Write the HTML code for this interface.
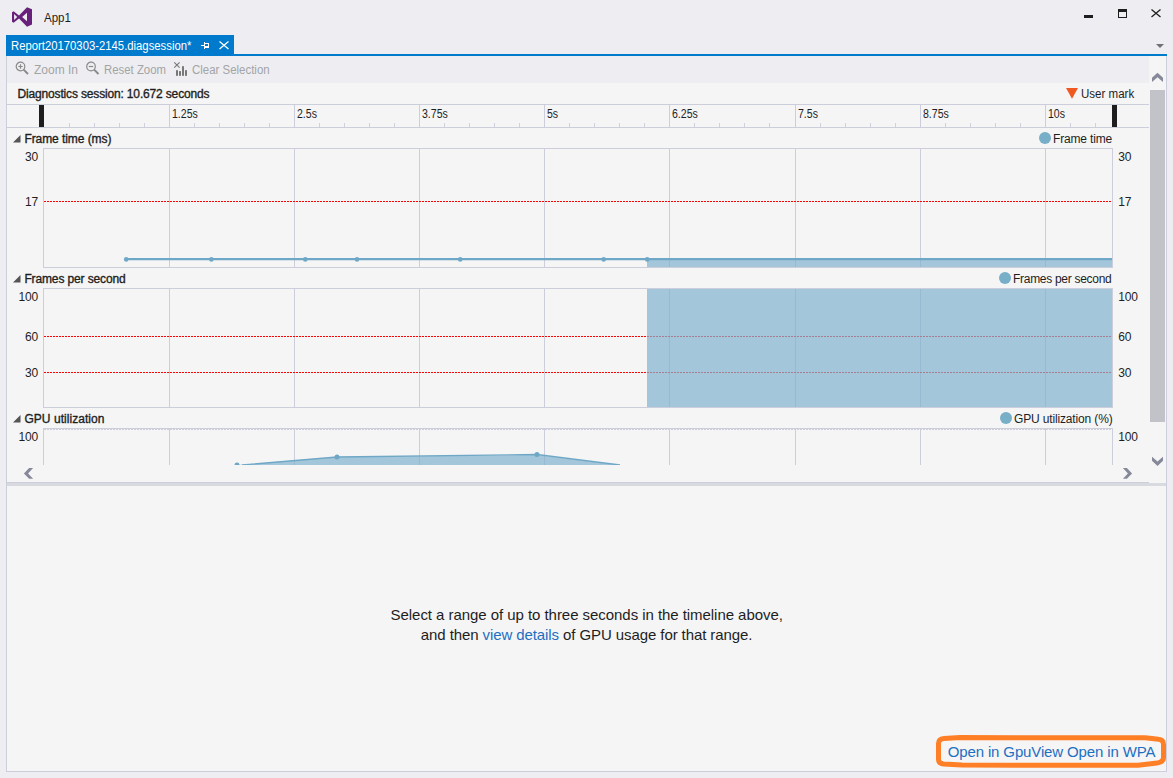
<!DOCTYPE html>
<html><head><meta charset="utf-8">
<style>
*{margin:0;padding:0;box-sizing:border-box}
html,body{width:1173px;height:778px;overflow:hidden;background:#EEEEF2;font-family:"Liberation Sans",sans-serif;font-size:12px;color:#1E1E1E}
.a{position:absolute}
.t{position:absolute;white-space:nowrap}
.sb{font-weight:bold}
</style></head><body>
<svg class="a" style="left:0;top:0" width="1173" height="35">
  <path fill="#68217A" fill-rule="evenodd" d="M12 12.2 L13.6 11.2 L19 15.4 L27 7.2 L32 9.3 L32 24.6 L27 26.8 L19 18.6 L13.6 22.8 L12 21.8 Z M14.1 14 L14.1 20.1 L17.2 17.05 Z M27 12.7 L27 21.3 L22.1 17 Z"/>
  <rect x="1084" y="15" width="9" height="3" fill="#1E1E1E"/>
  <rect x="1118.5" y="9.5" width="8" height="8" fill="none" stroke="#1E1E1E" stroke-width="1"/>
  <rect x="1118" y="9" width="9" height="3" fill="#1E1E1E"/>
  <path d="M1151.5 9.5 L1160.5 17 M1160.5 9.5 L1151.5 17" stroke="#1E1E1E" stroke-width="1.3"/>
</svg>
<div class="t" style="left:44px;top:11.00px;font-size:13px;line-height:13px;color:#1E1E1E;transform:scaleX(0.885);transform-origin:left center;">App1</div>
<div class="a" style="left:6px;top:35px;width:228px;height:21px;background:#007ACC"></div>
<div class="a" style="left:6px;top:54px;width:1161px;height:2px;background:#007ACC"></div>
<div class="t" style="left:10.5px;top:40.34px;font-size:12px;line-height:12px;color:#FFFFFF;transform:scaleX(0.942);transform-origin:left center;">Report20170303-2145.diagsession*</div>
<svg class="a" style="left:195px;top:38px" width="40" height="14">
  <g fill="#fff"><rect x="6" y="7" width="3" height="1"/><rect x="9" y="4" width="1" height="7"/><rect x="10" y="5" width="4" height="1"/><rect x="13" y="5" width="1" height="5"/><rect x="10" y="8" width="4" height="2"/></g>
  <path d="M24.5 3.5 L33.5 11 M33.5 3.5 L24.5 11" stroke="#fff" stroke-width="1.3"/>
</svg>
<svg class="a" style="left:1155px;top:43px" width="10" height="6"><path d="M1 1 H9 L5 5 Z" fill="#717171"/></svg>
<div class="a" style="left:6px;top:56px;width:1161px;height:716px;background:#F5F5F5;border-left:1px solid #CCCEDB;border-right:1px solid #CCCEDB;border-bottom:1px solid #CCCEDB"></div>
<div class="a" style="left:7px;top:56px;width:1142px;height:27px;background:#EEEEF2"></div>
<svg class="a" style="left:14px;top:60px" width="180" height="20">
  <g fill="none" stroke="#8A8A8A" stroke-width="1.2">
    <circle cx="6.5" cy="6.5" r="4.3"/>
    <path d="M4.3 6.5 H8.7 M6.5 4.3 V8.7"/>
    <path d="M9.6 9.6 L14 14" stroke-width="2"/>
    <circle cx="77" cy="6.5" r="4.3"/>
    <path d="M74.8 6.5 H79.2"/>
    <path d="M80.1 9.6 L84.5 14" stroke-width="2"/>
  </g>
</svg>
<div class="t" style="left:34px;top:64.34px;font-size:12px;line-height:12px;color:#A2A4A5;">Zoom In</div>
<div class="t" style="left:104.2px;top:64.34px;font-size:12px;line-height:12px;color:#A2A4A5;transform:scaleX(0.949);transform-origin:left center;">Reset Zoom</div>
<svg class="a" style="left:172px;top:60px" width="20" height="20">
  <path d="M2.2 2.4 L7.6 7.6 M7.6 2.4 L2.2 7.6" stroke="#777" stroke-width="1.1"/>
  <rect x="4" y="10.2" width="2" height="5.6" fill="#777"/>
  <rect x="7" y="11.1" width="2" height="4.7" fill="#777"/>
  <rect x="10" y="6.2" width="2" height="9.6" fill="#777"/>
  <rect x="13" y="10.2" width="2" height="5.6" fill="#777"/>
</svg>
<div class="t" style="left:192.2px;top:64.34px;font-size:12px;line-height:12px;color:#A2A4A5;transform:scaleX(0.954);transform-origin:left center;">Clear Selection</div>
<div class="t" style="left:17.5px;top:87.84px;font-size:12px;line-height:12px;color:#1E1E1E;letter-spacing:-0.16px;-webkit-text-stroke:0.35px #1E1E1E;">Diagnostics session: 10.672 seconds</div>
<svg class="a" style="left:1065px;top:87px" width="14" height="12"><path d="M1 1 H13 L7 11.8 Z" fill="#F05A22"/></svg>
<div class="t" style="left:1080.8px;top:87.84px;font-size:12px;line-height:12px;color:#1E1E1E;transform:scaleX(0.962);transform-origin:left center;">User mark</div>
<div class="a" style="left:7px;top:104px;width:1142px;height:1px;background:#CCCEDB"></div>
<div class="a" style="left:7px;top:127px;width:1142px;height:1px;background:#CCCEDB"></div>
<div class="a" style="left:169px;top:105px;width:1px;height:22px;background:#CCCEDB"></div>
<div class="a" style="left:294px;top:105px;width:1px;height:22px;background:#CCCEDB"></div>
<div class="a" style="left:419px;top:105px;width:1px;height:22px;background:#CCCEDB"></div>
<div class="a" style="left:544px;top:105px;width:1px;height:22px;background:#CCCEDB"></div>
<div class="a" style="left:669px;top:105px;width:1px;height:22px;background:#CCCEDB"></div>
<div class="a" style="left:795px;top:105px;width:1px;height:22px;background:#CCCEDB"></div>
<div class="a" style="left:920px;top:105px;width:1px;height:22px;background:#CCCEDB"></div>
<div class="a" style="left:1045px;top:105px;width:1px;height:22px;background:#CCCEDB"></div>
<div class="a" style="left:69px;top:123px;width:1px;height:4px;background:#D0D1DC"></div>
<div class="a" style="left:94px;top:123px;width:1px;height:4px;background:#D0D1DC"></div>
<div class="a" style="left:119px;top:123px;width:1px;height:4px;background:#D0D1DC"></div>
<div class="a" style="left:144px;top:123px;width:1px;height:4px;background:#D0D1DC"></div>
<div class="a" style="left:194px;top:123px;width:1px;height:4px;background:#D0D1DC"></div>
<div class="a" style="left:219px;top:123px;width:1px;height:4px;background:#D0D1DC"></div>
<div class="a" style="left:244px;top:123px;width:1px;height:4px;background:#D0D1DC"></div>
<div class="a" style="left:269px;top:123px;width:1px;height:4px;background:#D0D1DC"></div>
<div class="a" style="left:319px;top:123px;width:1px;height:4px;background:#D0D1DC"></div>
<div class="a" style="left:344px;top:123px;width:1px;height:4px;background:#D0D1DC"></div>
<div class="a" style="left:369px;top:123px;width:1px;height:4px;background:#D0D1DC"></div>
<div class="a" style="left:394px;top:123px;width:1px;height:4px;background:#D0D1DC"></div>
<div class="a" style="left:444px;top:123px;width:1px;height:4px;background:#D0D1DC"></div>
<div class="a" style="left:469px;top:123px;width:1px;height:4px;background:#D0D1DC"></div>
<div class="a" style="left:494px;top:123px;width:1px;height:4px;background:#D0D1DC"></div>
<div class="a" style="left:519px;top:123px;width:1px;height:4px;background:#D0D1DC"></div>
<div class="a" style="left:569px;top:123px;width:1px;height:4px;background:#D0D1DC"></div>
<div class="a" style="left:594px;top:123px;width:1px;height:4px;background:#D0D1DC"></div>
<div class="a" style="left:619px;top:123px;width:1px;height:4px;background:#D0D1DC"></div>
<div class="a" style="left:644px;top:123px;width:1px;height:4px;background:#D0D1DC"></div>
<div class="a" style="left:694px;top:123px;width:1px;height:4px;background:#D0D1DC"></div>
<div class="a" style="left:719px;top:123px;width:1px;height:4px;background:#D0D1DC"></div>
<div class="a" style="left:744px;top:123px;width:1px;height:4px;background:#D0D1DC"></div>
<div class="a" style="left:769px;top:123px;width:1px;height:4px;background:#D0D1DC"></div>
<div class="a" style="left:820px;top:123px;width:1px;height:4px;background:#D0D1DC"></div>
<div class="a" style="left:845px;top:123px;width:1px;height:4px;background:#D0D1DC"></div>
<div class="a" style="left:870px;top:123px;width:1px;height:4px;background:#D0D1DC"></div>
<div class="a" style="left:895px;top:123px;width:1px;height:4px;background:#D0D1DC"></div>
<div class="a" style="left:945px;top:123px;width:1px;height:4px;background:#D0D1DC"></div>
<div class="a" style="left:970px;top:123px;width:1px;height:4px;background:#D0D1DC"></div>
<div class="a" style="left:995px;top:123px;width:1px;height:4px;background:#D0D1DC"></div>
<div class="a" style="left:1020px;top:123px;width:1px;height:4px;background:#D0D1DC"></div>
<div class="a" style="left:1070px;top:123px;width:1px;height:4px;background:#D0D1DC"></div>
<div class="a" style="left:1095px;top:123px;width:1px;height:4px;background:#D0D1DC"></div>
<div class="t" style="left:172.3px;top:107.84px;font-size:12px;line-height:12px;color:#1E1E1E;transform:scaleX(0.88);transform-origin:left center;">1.25s</div>
<div class="t" style="left:297.3px;top:107.84px;font-size:12px;line-height:12px;color:#1E1E1E;transform:scaleX(0.88);transform-origin:left center;">2.5s</div>
<div class="t" style="left:422.3px;top:107.84px;font-size:12px;line-height:12px;color:#1E1E1E;transform:scaleX(0.88);transform-origin:left center;">3.75s</div>
<div class="t" style="left:547.3px;top:107.84px;font-size:12px;line-height:12px;color:#1E1E1E;transform:scaleX(0.88);transform-origin:left center;">5s</div>
<div class="t" style="left:672.3px;top:107.84px;font-size:12px;line-height:12px;color:#1E1E1E;transform:scaleX(0.88);transform-origin:left center;">6.25s</div>
<div class="t" style="left:798.3px;top:107.84px;font-size:12px;line-height:12px;color:#1E1E1E;transform:scaleX(0.88);transform-origin:left center;">7.5s</div>
<div class="t" style="left:923.3px;top:107.84px;font-size:12px;line-height:12px;color:#1E1E1E;transform:scaleX(0.88);transform-origin:left center;">8.75s</div>
<div class="t" style="left:1048.3px;top:107.84px;font-size:12px;line-height:12px;color:#1E1E1E;transform:scaleX(0.88);transform-origin:left center;">10s</div>
<div class="a" style="left:39px;top:105px;width:5px;height:22px;background:#1E1E1E"></div>
<div class="a" style="left:1112px;top:105px;width:5px;height:22px;background:#1E1E1E"></div>
<svg class="a" style="left:12px;top:133.5px" width="10" height="10"><path d="M8.5 1 V8.5 H1 Z" fill="#555"/></svg>
<div class="t" style="left:24.4px;top:132.84px;font-size:12px;line-height:12px;color:#1E1E1E;letter-spacing:-0.07px;-webkit-text-stroke:0.35px #1E1E1E;">Frame time (ms)</div>
<div class="a" style="left:1039px;top:132px;width:12px;height:12px;border-radius:50%;background:#77AFC9"></div>
<div class="t" style="left:1053px;top:132.84px;font-size:12px;line-height:12px;color:#1E1E1E;letter-spacing:-0.17px;">Frame time</div>
<div class="a" style="left:43px;top:148px;width:1070px;height:1px;background:#CCCEDB"></div>
<div class="a" style="left:43px;top:267px;width:1070px;height:1px;background:#CCCEDB"></div>
<div class="a" style="left:43px;top:148px;width:1px;height:119px;background:#CCCEDB"></div>
<div class="a" style="left:1112px;top:148px;width:1px;height:119px;background:#CCCEDB"></div>
<div class="a" style="left:169px;top:149px;width:1px;height:118px;background:#CCCEDB"></div>
<div class="a" style="left:294px;top:149px;width:1px;height:118px;background:#CCCEDB"></div>
<div class="a" style="left:419px;top:149px;width:1px;height:118px;background:#CCCEDB"></div>
<div class="a" style="left:544px;top:149px;width:1px;height:118px;background:#CCCEDB"></div>
<div class="a" style="left:669px;top:149px;width:1px;height:118px;background:#CCCEDB"></div>
<div class="a" style="left:795px;top:149px;width:1px;height:118px;background:#CCCEDB"></div>
<div class="a" style="left:920px;top:149px;width:1px;height:118px;background:#CCCEDB"></div>
<div class="a" style="left:1045px;top:149px;width:1px;height:118px;background:#CCCEDB"></div>
<div class="t" style="left:-162px;width:200px;text-align:right;top:150.84px;font-size:12px;line-height:12px;color:#1E1E1E;letter-spacing:-0.2px;">30</div>
<div class="t" style="left:-162px;width:200px;text-align:right;top:195.84px;font-size:12px;line-height:12px;color:#1E1E1E;letter-spacing:-0.2px;">17</div>
<div class="t" style="left:1118.3px;top:150.84px;font-size:12px;line-height:12px;color:#1E1E1E;letter-spacing:-0.2px;">30</div>
<div class="t" style="left:1118.3px;top:195.84px;font-size:12px;line-height:12px;color:#1E1E1E;letter-spacing:-0.2px;">17</div>
<svg class="a" style="left:12px;top:273.5px" width="10" height="10"><path d="M8.5 1 V8.5 H1 Z" fill="#555"/></svg>
<div class="t" style="left:24.4px;top:272.84px;font-size:12px;line-height:12px;color:#1E1E1E;letter-spacing:-0.13px;-webkit-text-stroke:0.35px #1E1E1E;">Frames per second</div>
<div class="a" style="left:999px;top:272px;width:12px;height:12px;border-radius:50%;background:#77AFC9"></div>
<div class="t" style="left:1013px;top:272.84px;font-size:12px;line-height:12px;color:#1E1E1E;letter-spacing:-0.29px;">Frames per second</div>
<div class="a" style="left:43px;top:288px;width:1070px;height:1px;background:#CCCEDB"></div>
<div class="a" style="left:43px;top:407px;width:1070px;height:1px;background:#CCCEDB"></div>
<div class="a" style="left:43px;top:288px;width:1px;height:119px;background:#CCCEDB"></div>
<div class="a" style="left:1112px;top:288px;width:1px;height:119px;background:#CCCEDB"></div>
<div class="a" style="left:169px;top:289px;width:1px;height:118px;background:#CCCEDB"></div>
<div class="a" style="left:294px;top:289px;width:1px;height:118px;background:#CCCEDB"></div>
<div class="a" style="left:419px;top:289px;width:1px;height:118px;background:#CCCEDB"></div>
<div class="a" style="left:544px;top:289px;width:1px;height:118px;background:#CCCEDB"></div>
<div class="a" style="left:669px;top:289px;width:1px;height:118px;background:#CCCEDB"></div>
<div class="a" style="left:795px;top:289px;width:1px;height:118px;background:#CCCEDB"></div>
<div class="a" style="left:920px;top:289px;width:1px;height:118px;background:#CCCEDB"></div>
<div class="a" style="left:1045px;top:289px;width:1px;height:118px;background:#CCCEDB"></div>
<div class="t" style="left:-162px;width:200px;text-align:right;top:290.54px;font-size:12px;line-height:12px;color:#1E1E1E;letter-spacing:-0.2px;">100</div>
<div class="t" style="left:-162px;width:200px;text-align:right;top:330.84px;font-size:12px;line-height:12px;color:#1E1E1E;letter-spacing:-0.2px;">60</div>
<div class="t" style="left:-162px;width:200px;text-align:right;top:367.04px;font-size:12px;line-height:12px;color:#1E1E1E;letter-spacing:-0.2px;">30</div>
<div class="t" style="left:1118.3px;top:290.54px;font-size:12px;line-height:12px;color:#1E1E1E;letter-spacing:-0.2px;">100</div>
<div class="t" style="left:1118.3px;top:330.84px;font-size:12px;line-height:12px;color:#1E1E1E;letter-spacing:-0.2px;">60</div>
<div class="t" style="left:1118.3px;top:367.04px;font-size:12px;line-height:12px;color:#1E1E1E;letter-spacing:-0.2px;">30</div>
<svg class="a" style="left:12px;top:413.5px" width="10" height="10"><path d="M8.5 1 V8.5 H1 Z" fill="#555"/></svg>
<div class="t" style="left:24.4px;top:412.84px;font-size:12px;line-height:12px;color:#1E1E1E;letter-spacing:0.05px;-webkit-text-stroke:0.35px #1E1E1E;">GPU utilization</div>
<div class="a" style="left:1000px;top:412px;width:12px;height:12px;border-radius:50%;background:#77AFC9"></div>
<div class="t" style="left:1014px;top:412.84px;font-size:12px;line-height:12px;color:#1E1E1E;letter-spacing:-0.15px;">GPU utilization (%)</div>
<div class="a" style="left:43px;top:428px;width:1070px;height:1px;background:#CCCEDB"></div>
<div class="a" style="left:44px;top:429px;width:1068px;height:1px;background:repeating-linear-gradient(90deg,#CCCEDB 0 2px,transparent 2px 3px)"></div>
<div class="a" style="left:43px;top:428px;width:1px;height:37px;background:#CCCEDB"></div>
<div class="a" style="left:1112px;top:428px;width:1px;height:37px;background:#CCCEDB"></div>
<div class="a" style="left:169px;top:429px;width:1px;height:36px;background:#CCCEDB"></div>
<div class="a" style="left:294px;top:429px;width:1px;height:36px;background:#CCCEDB"></div>
<div class="a" style="left:419px;top:429px;width:1px;height:36px;background:#CCCEDB"></div>
<div class="a" style="left:544px;top:429px;width:1px;height:36px;background:#CCCEDB"></div>
<div class="a" style="left:669px;top:429px;width:1px;height:36px;background:#CCCEDB"></div>
<div class="a" style="left:795px;top:429px;width:1px;height:36px;background:#CCCEDB"></div>
<div class="a" style="left:920px;top:429px;width:1px;height:36px;background:#CCCEDB"></div>
<div class="a" style="left:1045px;top:429px;width:1px;height:36px;background:#CCCEDB"></div>
<div class="t" style="left:-162px;width:200px;text-align:right;top:430.54px;font-size:12px;line-height:12px;color:#1E1E1E;letter-spacing:-0.2px;">100</div>
<div class="t" style="left:1118.3px;top:430.54px;font-size:12px;line-height:12px;color:#1E1E1E;letter-spacing:-0.2px;">100</div>
<div class="a" style="left:44px;top:201px;width:1068px;height:1px;background:repeating-linear-gradient(90deg,#FF0000 0 2px,transparent 2px 3px)"></div>
<div class="a" style="left:44px;top:336px;width:1068px;height:1px;background:repeating-linear-gradient(90deg,#FF0000 0 2px,transparent 2px 3px)"></div>
<div class="a" style="left:44px;top:372px;width:1068px;height:1px;background:repeating-linear-gradient(90deg,#FF0000 0 2px,transparent 2px 3px)"></div>
<svg class="a" style="left:0;top:0" width="1173" height="778">
  <rect x="647" y="260" width="465" height="7" fill="rgba(128,178,206,0.7)"/>
  <rect x="647" y="289" width="465" height="118" fill="rgba(128,178,206,0.7)"/>
  <path d="M237 465 L337 457 L537 455 L620 465 Z" fill="rgba(128,178,206,0.7)"/>
  <path d="M242 465 L337 457 L537 454.5 L620 465" fill="none" stroke="#6FA8C6" stroke-width="1.3"/>
  <circle cx="337" cy="457" r="2.5" fill="#6FA8C6"/>
  <circle cx="537" cy="454.5" r="2.5" fill="#6FA8C6"/>
  <circle cx="237" cy="465" r="2.5" fill="#6FA8C6"/>
  <path d="M126 259.2 L647 259.2 L1112 259.2" stroke="#6FA8C6" stroke-width="2.3" fill="none"/>
  <circle cx="126.2" cy="259.4" r="2.3" fill="#6FA8C6"/><circle cx="211.4" cy="259.4" r="2.3" fill="#6FA8C6"/><circle cx="305.3" cy="259.4" r="2.3" fill="#6FA8C6"/><circle cx="357" cy="259.4" r="2.3" fill="#6FA8C6"/><circle cx="460.2" cy="259.4" r="2.3" fill="#6FA8C6"/><circle cx="603.7" cy="259.4" r="2.3" fill="#6FA8C6"/><circle cx="647.2" cy="259.4" r="2.3" fill="#6FA8C6"/>
</svg>
<div class="a" style="left:7px;top:465px;width:1142px;height:17px;background:#F5F5F5"></div>
<div class="a" style="left:1149px;top:56px;width:17px;height:426px;background:#F5F5F5"></div>
<div class="a" style="left:1150px;top:90px;width:15px;height:332px;background:#C2C3C9"></div>
<svg class="a" style="left:0;top:0" width="1173" height="778"><g fill="#868999">
<path d="M33.1 468.1 L29.1 468.1 L23.9 473.4 L29.1 478.8 L33.1 478.8 L28.1 473.4 Z"/>
<path d="M1122.9 468.1 L1126.9 468.1 L1132.1 473.4 L1126.9 478.8 L1122.9 478.8 L1127.9 473.4 Z"/>
<path d="M1152 82.1 L1152 77.8 L1157.5 72.8 L1163 77.8 L1163 82.1 L1157.5 77.2 Z"/>
<path d="M1152 456.7 L1152 460.8 L1157.5 465.9 L1163 460.8 L1163 456.7 L1157.5 461.6 Z"/>
</g></svg>
<div class="a" style="left:7px;top:482px;width:1142px;height:1px;background:#CCCEDB"></div>
<div class="a" style="left:7px;top:483px;width:1159px;height:3px;background:#D9DAE0"></div>
<div class="t" style="left:390.6px;top:607.00px;font-size:15px;line-height:15px;color:#1E1E1E;letter-spacing:-0.05px;">Select a range of up to three seconds in the timeline above,</div>
<div class="t" style="left:420.8px;top:626.70px;font-size:15px;line-height:15px;letter-spacing:-0.09px">and then <span style="color:#1E6FC2">view details</span> of GPU usage for that range.</div>
<div class="t" style="left:947.7px;top:744.00px;font-size:15px;line-height:15px;color:#1E6FC2;letter-spacing:-0.13px;">Open in GpuView Open in WPA</div>
<svg class="a" style="left:0;top:0" width="1173" height="778"><path d="M938.5 743.5 L938.5 759.5 Q938.5 763.4 943.5 763.9 L962 765.1 L1138 765.2 L1155 763.3 Q1163.5 762.6 1163.5 757.5 L1163.5 744.5 Q1163.5 739.6 1158.5 739.2 L1145 737.8 L960 737.6 L944 738.6 Q938.5 739.2 938.5 743.5 Z" fill="none" stroke="#FF7F27" stroke-width="5" stroke-linejoin="round"/></svg>
</body></html>
